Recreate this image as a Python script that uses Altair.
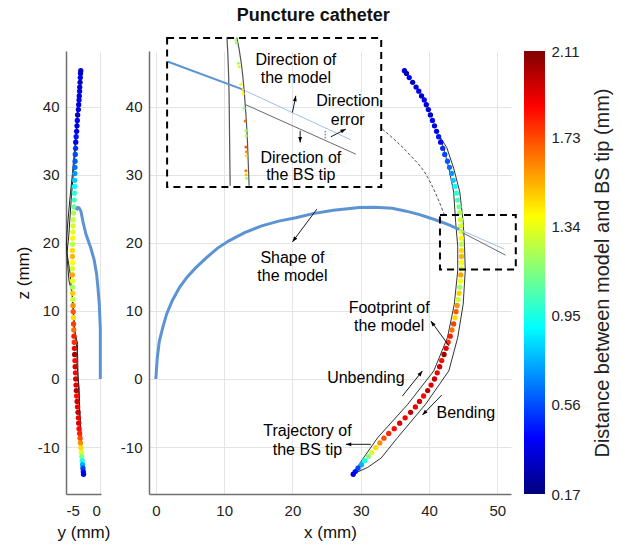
import math
import altair as alt
import pandas as pd

# ---------------- data: BS tip samples (3-D) and distance to model (mm)
tip_z = [45.3, 44.9, 44.3, 43.6, 42.9, 42.3, 41.6, 41.0, 40.3, 39.6, 38.8, 38.0, 37.2, 36.4, 35.6, 34.8,
         33.9, 33.0, 32.0, 31.1, 30.2, 29.2, 28.3, 27.3, 26.3, 25.3, 24.4, 23.4, 22.5, 21.6, 20.7, 19.8,
         18.9, 18.0, 17.1, 16.2, 15.3, 14.4, 13.5, 12.6, 11.7, 10.8, 9.9, 9.0, 8.1, 7.2, 6.3, 5.4,
         4.5, 3.6, 2.7, 1.8, 0.9, 0.0, -0.9, -1.7, -2.5, -3.3, -4.1, -4.9, -5.7, -6.5, -7.3, -8.0,
         -8.7, -9.4, -10.1, -10.8, -11.4, -12.0, -12.6, -13.1, -13.6, -14.0]
tip_x = [36.4, 36.7, 37.1, 37.6, 38.1, 38.5, 38.9, 39.3, 39.6, 39.9, 40.2, 40.5, 40.8, 41.1, 41.4, 41.7,
         42.0, 42.3, 42.7, 43.0, 43.3, 43.55, 43.8, 44.0, 44.2, 44.4, 44.5, 44.6, 44.65, 44.7, 44.72, 44.75,
         44.75, 44.75, 44.75, 44.72, 44.65, 44.6, 44.5, 44.4, 44.25, 44.1, 43.95, 43.8, 43.6, 43.35, 43.1, 42.8,
         42.5, 42.2, 41.85, 41.55, 41.2, 40.8, 40.3, 39.8, 39.2, 38.6, 38.0, 37.3, 36.5, 35.7, 34.9, 34.1,
         33.4, 32.8, 32.2, 31.6, 31.1, 30.6, 30.1, 29.6, 29.2, 28.9]
tip_y = [-2.85, -2.88, -2.92, -2.95, -3.0, -3.02, -3.07, -3.1, -3.15, -3.2, -3.3, -3.35, -3.4, -3.45, -3.52, -3.58,
         -3.6, -3.65, -3.68, -3.7, -3.72, -3.74, -3.76, -3.78, -3.8, -3.85, -3.9, -3.95, -3.98, -4.0, -4.02, -4.05,
         -4.07, -4.07, -4.07, -4.07, -4.07, -4.05, -4.05, -4.03, -4.0, -3.98, -3.95, -3.92, -3.9, -3.87, -3.84, -3.8,
         -3.77, -3.74, -3.7, -3.66, -3.62, -3.58, -3.54, -3.5, -3.45, -3.38, -3.32, -3.25, -3.2, -3.15, -3.1, -3.02,
         -2.95, -2.9, -2.82, -2.75, -2.7, -2.64, -2.58, -2.53, -2.48, -2.44]
tip_d = [0.35, 0.30, 0.40, 0.28, 0.33, 0.38, 0.30, 0.42, 0.32, 0.37, 0.30, 0.42, 0.35, 0.38, 0.45, 0.40,
         0.50, 0.55, 0.58, 0.62, 0.70, 0.80, 0.90, 0.98, 1.02, 1.10, 1.22, 1.28, 1.30, 1.33, 1.40, 1.25,
         1.45, 1.52, 1.38, 1.30, 1.55, 1.35, 1.20, 1.48, 1.28, 1.60, 1.70, 1.45, 1.75, 1.65, 1.82, 1.78,
         1.90, 2.05, 1.85, 1.95, 1.88, 1.98, 1.92, 2.00, 1.85, 1.95, 1.90, 1.98, 1.88, 1.93, 1.85, 1.80,
         1.72, 1.60, 1.45, 1.30, 1.15, 0.95, 0.75, 0.55, 0.45, 0.35]

# BS tip trajectory (x-z view): unbending (inner) and bending (outer) passes
unb_x = [28.8, 30.4, 32.5, 36.9, 40.7, 42.7, 43.7, 44.2, 44.2, 43.9, 43.6, 42.9, 42.1, 41.6]
unb_z = [-14.0, -11.6, -8.6, -3.7, 1.2, 6.1, 11.0, 15.9, 19.5, 23.0, 27.5, 31.0, 34.0, 35.6]
ben_x = [28.8, 31.0, 33.0, 35.4, 39.5, 42.9, 44.2, 45.0, 45.3, 45.2, 45.0, 44.5, 43.6, 42.6, 41.6]
ben_z = [-14.0, -13.0, -11.6, -8.6, -3.7, 1.2, 6.1, 11.0, 15.9, 19.5, 23.0, 27.5, 31.0, 34.0, 35.6]

# BS tip trajectory (y-z view)
ly1_y = [-2.84, -3.1, -3.4, -3.68, -4.07, -4.46, -4.8, -4.95, -4.8, -4.56, -4.07, -3.82, -3.3, -3.44, -3.09, -3.0, -2.7, -2.6]
ly1_z = [45.3, 41.4, 38.0, 34.5, 30.1, 26.2, 22.2, 19.8, 17.4, 14.4, 12.5, 7.5, 5.1, 2.6, -1.3, -4.7, -10.1, -13.5]
ly2_y = [-2.84, -3.2, -3.6, -4.2, -4.6, -4.85, -4.4, -4.0, -3.6, -3.3, -3.25, -3.0, -2.8, -2.6]
ly2_z = [45.3, 40.0, 34.0, 27.0, 21.0, 18.5, 15.5, 11.0, 6.0, 3.5, 0.0, -5.0, -9.0, -13.5]

# model shape
mod_x = [0, 0.2, 0.5, 1.0, 1.6, 2.4, 3.5, 4.6, 5.9, 7.5, 9.0, 10.7, 13.0, 15.5, 18.0, 20.5, 23.0, 26.0,
         29.8, 32.0, 34.6, 36.5, 38.5, 40.0, 41.5, 43.0, 44.4]
mod_z = [0, 3.0, 5.5, 7.5, 9.6, 11.5, 13.5, 15.0, 16.4, 17.9, 19.2, 20.3, 21.5, 22.5, 23.2, 23.7, 24.3, 24.8,
         25.2, 25.25, 25.1, 24.7, 24.2, 23.7, 23.2, 22.6, 22.0]
mod_y = [0, 0, 0, -0.15, -0.35, -0.54, -0.9, -1.4, -2.1, -2.5, -2.84, -3.1, -3.3, -3.5]
mod_yz = [0, 4.0, 7.5, 11.0, 13.5, 15.4, 17.5, 19.3, 21.3, 23.0, 24.7, 25.15, 25.2, 24.8]

# directions at the crossing (main view)
dir_model_x = [44.4, 51.0]
dir_model_z = [22.0, 19.1]
dir_tip_x = [44.9, 51.2]
dir_tip_z = [21.5, 18.2]

# inset (magnified view of the small box)
ins_l1_x = [10.4, 10.73, 10.88]
ins_l1_z = [50.2, 41.4, 28.4]
ins_l2_x = [11.86, 12.93, 13.41, 13.66]
ins_l2_z = [50.2, 42.35, 35.0, 28.4]
ins_dot_x = [11.71, 11.8, 12.1, 12.2, 12.44, 12.68, 12.78, 12.93, 13.07, 13.18, 13.22, 13.18, 13.27, 13.22, 13.18, 13.22, 13.27]
ins_dot_z = [49.8, 49.4, 46.4, 45.9, 43.3, 42.5, 41.9, 39.8, 37.9, 36.5, 35.7, 34.1, 33.4, 32.8, 30.6, 30.0, 29.5]
ins_dot_d = [1.2, 1.15, 1.2, 1.3, 1.4, 1.45, 1.38, 1.15, 1.65, 1.2, 1.25, 1.7, 1.62, 1.45, 1.65, 1.5, 1.2]
ins_model_x = [1.7, 12.59]
ins_model_z = [46.66, 42.6]
ins_model_dir_x = [12.59, 28.55]
ins_model_dir_z = [42.6, 35.15]
ins_tip_dir_x = [13.18, 29.28]
ins_tip_dir_z = [40.3, 33.04]

# dashed boxes and connector
box_x1 = [1.65, 41.6]
box_x2 = [33.0, 52.7]
box_z1 = [28.2, 16.1]
box_z2 = [50.1, 24.1]
conn_x = [33.17, 37.09, 39.53, 41.23, 42.21]
conn_z = [36.72, 33.04, 30.1, 26.66, 24.22]
arc_x = [24.79, 24.79]
arc_z = [36.47, 35.25]

# arrows: tail (x, z) -> head (x, z)
arr_tx = [23.57, 42.94, 36.1, 41.87, 31.48, 20.0, 21.13, 25.62]
arr_tz = [24.96, 4.85, -2.5, -2.35, -9.6, 39.16, 36.47, 35.59]
arr_hx = [20.0, 40.26, 39.03, 39.03, 27.82, 20.5, 21.13, 27.82]
arr_hz = [20.15, 8.53, 1.18, -5.29, -9.6, 41.62, 34.75, 36.72]

# annotation texts
txt_label = ["Direction of", "the model", "Direction", "error", "Direction of", "the BS tip",
             "Shape of", "the model", "Footprint of", "the model", "Unbending", "Bending",
             "Trajectory of", "the BS tip"]
txt_x = [20.5, 20.5, 28.1, 28.1, 21.23, 21.23, 20.0, 20.0, 34.16, 34.16, 30.75, 45.39, 22.2, 22.2]
txt_z = [46.87, 44.16, 40.88, 38.04, 32.54, 30.0, 17.84, 15.15, 10.49, 7.79, 0.1, -4.96, -7.65, -10.44]

# colour bar ticks
cb_ticks = [0.17, 0.56, 0.95, 1.34, 1.73, 2.11]
D_MIN, D_MAX = 0.17, 2.11

# ---------------- scales / axes
FONT = "Liberation Sans"
jet_dom = [D_MIN + (D_MAX - D_MIN) * f for f in [0, 0.125, 0.375, 0.625, 0.875, 1]]
jet_rng = ["#00007f", "#0000ff", "#00ffff", "#ffff00", "#ff0000", "#7f0000"]
CS = alt.Scale(domain=jet_dom, range=jet_rng, interpolate="rgb")

SX = alt.Scale(domain=[-1, 52], nice=False, zero=False)
SZ = alt.Scale(domain=[-16.9, 48.2], nice=False, zero=False)
SY = alt.Scale(domain=[-5, 0.1], nice=False, zero=False)

axc = dict(grid=True, gridColor="#e4e4e4", gridWidth=1, domainColor="#707070", domainWidth=1.5,
           ticks=False, labelFontSize=15, labelColor="#222222", titleFontSize=17,
           titleFontWeight="normal", titleColor="#111111", labelFont=FONT, titleFont=FONT,
           labelExpr="datum.value + ''")
XAX = alt.Axis(values=[0, 10, 20, 30, 40, 50], title="x (mm)", labelPadding=9, titlePadding=6, **axc)
ZAXM = alt.Axis(values=[-10, 0, 10, 20, 30, 40], title=None, labelPadding=7, **axc)
ZAXL = alt.Axis(values=[-10, 0, 10, 20, 30, 40], title="z (mm)", labelPadding=7, titlePadding=5, **axc)
YAX = alt.Axis(values=[-5, 0], title="y (mm)", labelPadding=9, titlePadding=6, **axc)

W_MAIN, W_LEFT, H = 362, 35, 443
CB_GAP, CB_W = 13, 21
CB_STEP = 0.005


def MX(f="x"):
    return alt.X(f"{f}:Q", scale=SX, axis=XAX)


def MZ(f="z"):
    return alt.Y(f"{f}:Q", scale=SZ, axis=ZAXM)


def line_df(xs, zs, name):
    return pd.DataFrame({"x": xs, "z": zs, "g": name, "o": list(range(len(xs)))})


tips = pd.DataFrame({"x": tip_x, "y": tip_y, "z": tip_z, "d": tip_d})

# ---------------- main (x-z) panel
traj = pd.concat([line_df(unb_x, unb_z, "unb"), line_df(ben_x, ben_z, "ben")])
l_traj = alt.Chart(traj).mark_line(color="#333333", strokeWidth=1).encode(
    x=MX(), y=MZ(), detail="g:N", order="o:Q")
l_dots = alt.Chart(tips).mark_circle(size=28, opacity=1).encode(
    x=MX(), y=MZ(), color=alt.Color("d:Q", scale=CS, legend=None))
l_model = alt.Chart(line_df(mod_x, mod_z, "m")).mark_line(color="#5b93d3", strokeWidth=3).encode(
    x=MX(), y=MZ(), order="o:Q")
l_dm = alt.Chart(pd.concat([line_df(dir_model_x, dir_model_z, "a"),
                            line_df(ins_model_dir_x, ins_model_dir_z, "b")])).mark_line(
    color="#9cc0ea", strokeWidth=1).encode(x=MX(), y=MZ(), detail="g:N", order="o:Q")
l_dt = alt.Chart(pd.concat([line_df(dir_tip_x, dir_tip_z, "a"),
                            line_df(ins_tip_dir_x, ins_tip_dir_z, "b")])).mark_line(
    color="#6a6a6a", strokeWidth=1).encode(x=MX(), y=MZ(), detail="g:N", order="o:Q")
l_ins_lines = alt.Chart(pd.concat([line_df(ins_l1_x, ins_l1_z, "a"),
                                   line_df(ins_l2_x, ins_l2_z, "b")])).mark_line(
    color="#555555", strokeWidth=1.2, interpolate="monotone").encode(x=MX(), y=MZ(), detail="g:N", order="o:Q")
l_ins_dots = alt.Chart(pd.DataFrame({"x": ins_dot_x, "z": ins_dot_z, "d": ins_dot_d})).mark_circle(
    size=9, opacity=1).encode(x=MX(), y=MZ(), color=alt.Color("d:Q", scale=CS, legend=None))
l_ins_model = alt.Chart(line_df(ins_model_x, ins_model_z, "m")).mark_line(
    color="#5b93d3", strokeWidth=2).encode(x=MX(), y=MZ(), order="o:Q")
l_boxes = alt.Chart(pd.DataFrame({"x": box_x1, "x2": box_x2, "z": box_z1, "z2": box_z2})).mark_rect(
    fillOpacity=0, stroke="black", strokeWidth=2, strokeDash=[7, 5]).encode(
    x=MX(), x2="x2:Q", y=MZ(), y2="z2:Q")
l_conn = alt.Chart(line_df(conn_x, conn_z, "c")).mark_line(
    color="#222222", strokeWidth=0.8, strokeDash=[3, 2], interpolate="monotone").encode(x=MX(), y=MZ(), order="o:Q")
l_arc = alt.Chart(line_df(arc_x, arc_z, "c")).mark_line(
    color="#222222", strokeWidth=0.8, strokeDash=[1.5, 1.5]).encode(x=MX(), y=MZ(), order="o:Q")

ang = []
for tx, tz, hx, hz in zip(arr_tx, arr_tz, arr_hx, arr_hz):
    sdx = (hx - tx) * 6.83
    sdy = -(hz - tz) * 6.8
    ang.append(math.degrees(math.atan2(sdx, -sdy)) % 360)
arrows = pd.DataFrame({"x": arr_tx, "z": arr_tz, "x2": arr_hx, "z2": arr_hz, "ang": ang})
l_shaft = alt.Chart(arrows).mark_rule(color="black", strokeWidth=0.9).encode(
    x=MX(), x2="x2:Q", y=MZ(), y2="z2:Q")
l_head = alt.Chart(arrows).mark_point(
    shape="M0,0L0.5,1.4L-0.5,1.4Z", filled=True, color="black", size=60, opacity=1).encode(
    x=MX("x2"), y=MZ("z2"), angle=alt.Angle("ang:Q", scale=None))
l_text = alt.Chart(pd.DataFrame({"x": txt_x, "z": txt_z, "t": txt_label})).mark_text(
    font=FONT, fontSize=16, color="black", align="center", baseline="middle").encode(
    x=MX(), y=MZ(), text="t:N")

main_plot = alt.layer(l_traj, l_dots, l_model, l_dm, l_dt, l_ins_lines, l_ins_dots, l_ins_model,
                      l_boxes, l_conn, l_arc, l_shaft, l_head, l_text)

# colour bar drawn just right of the main plot area, with its own y scale
cbar = alt.Chart(alt.sequence(D_MIN, D_MAX, CB_STEP, as_="d")).transform_calculate(
    d2=f"min(datum.d + {3 * CB_STEP}, {D_MAX})").mark_rect().encode(
    x=alt.value(W_MAIN + CB_GAP), x2=alt.value(W_MAIN + CB_GAP + CB_W),
    y=alt.Y("d:Q", scale=alt.Scale(domain=[D_MIN, D_MAX], nice=False, zero=False),
            axis=alt.Axis(orient="right", offset=CB_GAP + CB_W, values=cb_ticks, format=".2f",
                          grid=False, domain=False, ticks=False, labelPadding=6, labelFontSize=15,
                          labelColor="#222222", labelFont=FONT,
                          title="Distance between model and BS tip (mm)",
                          titleAngle=270, titleBaseline="top", titleFontSize=20,
                          titleFontWeight="normal", titleColor="#222222", titleFont=FONT,
                          titlePadding=12)),
    y2="d2:Q",
    color=alt.Color("d:Q", scale=CS, legend=None))

main = alt.layer(main_plot, cbar).resolve_scale(y="independent").properties(width=W_MAIN, height=H)

# ---------------- left (y-z) panel
def LX():
    return alt.X("y:Q", scale=SY, axis=YAX)


def LZ():
    return alt.Y("z:Q", scale=SZ, axis=ZAXL)


def yline_df(ys, zs, name):
    return pd.DataFrame({"y": ys, "z": zs, "g": name, "o": list(range(len(ys)))})


left_traj = alt.Chart(pd.concat([yline_df(ly1_y, ly1_z, "a"), yline_df(ly2_y, ly2_z, "b")])).mark_line(
    color="#222222", strokeWidth=1).encode(x=LX(), y=LZ(), detail="g:N", order="o:Q")
left_dots = alt.Chart(tips).mark_circle(size=28, opacity=1).encode(
    x=LX(), y=LZ(), color=alt.Color("d:Q", scale=CS, legend=None))
left_model = alt.Chart(yline_df(mod_y, mod_yz, "m")).mark_line(color="#5b93d3", strokeWidth=3).encode(
    x=LX(), y=LZ(), order="o:Q")
left = alt.layer(left_traj, left_dots, left_model).properties(width=W_LEFT, height=H)

chart = alt.hconcat(left, main, spacing=48, bounds="flush").properties(
    title=alt.TitleParams("Puncture catheter", fontSize=18, fontWeight="bold", font=FONT,
                          anchor="middle", color="#111111", offset=10),
    padding={"left": 14, "top": 6, "right": 5, "bottom": 5}
).configure_view(stroke=None)

chart.save("out.html", embed_options={"renderer": "svg", "actions": False})
